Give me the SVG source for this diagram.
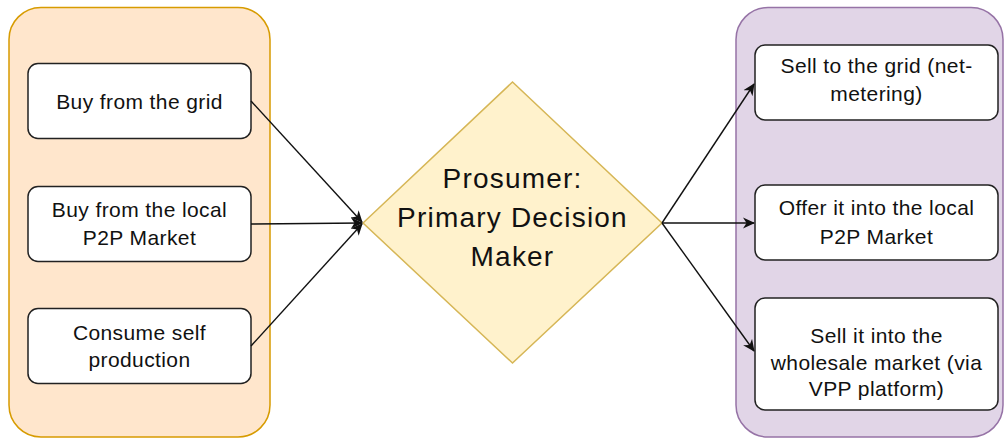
<svg xmlns="http://www.w3.org/2000/svg" width="1006" height="441" viewBox="0 0 1006 441">
  <style>
    .lane-buy { fill: #ffe6cc; stroke: #d79b00; stroke-width: 1.5; }
    .lane-sell { fill: #e1d5e7; stroke: #9673a6; stroke-width: 1.5; }
    .opt { fill: #ffffff; stroke: #222222; stroke-width: 1.5; }
    .hub { fill: #fff2cc; stroke: #d6b656; stroke-width: 1.5; }
    .lbl { font-family: "Liberation Sans", Arial, sans-serif; font-size: 21px; letter-spacing: 0.4px; fill: #111111; text-anchor: middle; }
    .big { font-family: "Liberation Sans", Arial, sans-serif; font-size: 28px; letter-spacing: 1.2px; fill: #111111; text-anchor: middle; }
    .edge { fill: none; stroke: #111111; stroke-width: 1.4; marker-end: url(#arrow); }
  </style>
  <defs>
    <!-- classic notched arrowhead -->
    <marker id="arrow" viewBox="0 0 12 12" refX="11" refY="6" markerWidth="12" markerHeight="12" markerUnits="userSpaceOnUse" orient="auto">
      <path d="M0,0.5 L12,6 L0,11.5 L3.5,6 Z" fill="#111111"/>
    </marker>
  </defs>

  <!-- containers -->
  <g id="buy-options">
    <rect class="lane-buy" x="9" y="7.5" width="261" height="429.5" rx="32" ry="32"/>
  </g>
  <g id="sell-options">
    <rect class="lane-sell" x="736" y="7.5" width="267" height="429.5" rx="32" ry="32"/>
  </g>

  <!-- buy side -->
  <g id="buy-grid">
    <rect class="opt" x="28" y="63.5" width="223" height="75" rx="10" ry="10"/>
    <text class="lbl" x="139.5" y="109">Buy from the grid</text>
  </g>
  <g id="buy-p2p">
    <rect class="opt" x="28" y="186.5" width="223" height="75" rx="10" ry="10"/>
    <text class="lbl" x="139.5" y="217">Buy from the local</text>
    <text class="lbl" x="139.5" y="245">P2P Market</text>
  </g>
  <g id="consume-self">
    <rect class="opt" x="28" y="308.5" width="223" height="75" rx="10" ry="10"/>
    <text class="lbl" x="139.5" y="340">Consume self</text>
    <text class="lbl" x="139.5" y="367">production</text>
  </g>

  <!-- decision hub -->
  <g id="prosumer">
    <polygon class="hub" points="363,223 512.5,82 662,223 512.5,363"/>
    <text class="big" x="512.5" y="188">Prosumer:</text>
    <text class="big" x="512.5" y="227">Primary Decision</text>
    <text class="big" x="512.5" y="266">Maker</text>
  </g>

  <!-- sell side -->
  <g id="sell-grid">
    <rect class="opt" x="755" y="45" width="243" height="75" rx="10" ry="10"/>
    <text class="lbl" x="876.5" y="73">Sell to the grid (net-</text>
    <text class="lbl" x="876.5" y="101">metering)</text>
  </g>
  <g id="offer-p2p">
    <rect class="opt" x="755" y="185" width="243" height="75" rx="10" ry="10"/>
    <text class="lbl" x="876.5" y="215">Offer it into the local</text>
    <text class="lbl" x="876.5" y="244">P2P Market</text>
  </g>
  <g id="sell-wholesale">
    <rect class="opt" x="755" y="298" width="243" height="112" rx="10" ry="10"/>
    <text class="lbl" x="876.5" y="343">Sell it into the</text>
    <text class="lbl" x="876.5" y="370">wholesale market (via</text>
    <text class="lbl" x="876.5" y="396">VPP platform)</text>
  </g>

  <!-- connectors -->
  <g id="connectors">
    <path class="edge" d="M251,101 L362,222"/>
    <path class="edge" d="M251,224 L362,223"/>
    <path class="edge" d="M251,346 L362,224"/>
    <path class="edge" d="M662,223 L754,84"/>
    <path class="edge" d="M662,223 L754,223"/>
    <path class="edge" d="M662,223 L754,351"/>
  </g>
</svg>
